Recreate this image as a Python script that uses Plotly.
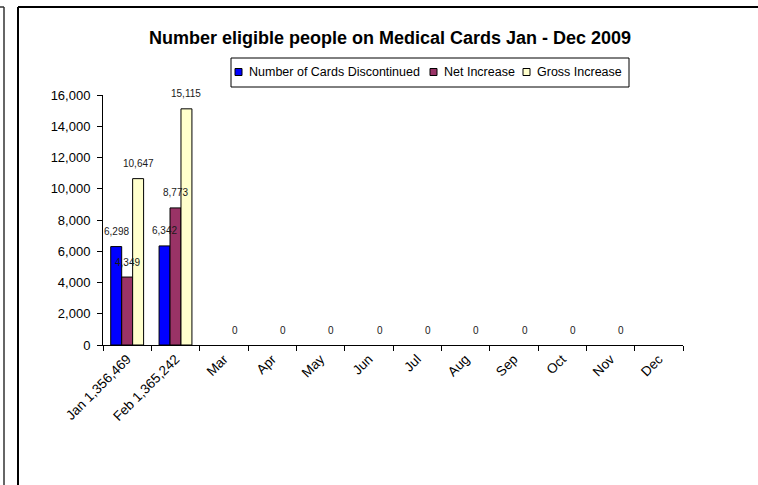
import plotly.graph_objects as go

# ---- data ----
categories = ["Jan 1,356,469", "Feb 1,365,242", "Mar", "Apr", "May", "Jun",
              "Jul", "Aug", "Sep", "Oct", "Nov", "Dec"]
series_names = ["Number of Cards Discontinued", "Net Increase", "Gross Increase"]
cards_discontinued = [6298, 6342, None, None, None, None, None, None, None, None, None, None]
net_increase = [4349, 8773, None, None, None, None, None, None, None, None, None, None]
gross_increase = [10647, 15115, 0, 0, 0, 0, 0, 0, 0, 0, 0, None]
y_tick_values = [0, 2000, 4000, 6000, 8000, 10000, 12000, 14000, 16000]
title_text = "Number eligible people on Medical Cards Jan - Dec 2009"

# ---- styling ----
W, H = 758, 485
ML, MR, MT, MB = 103, 75, 95, 140
PW, PH = W - ML - MR, H - MT - MB
colors = ["#0000FF", "#993366", "#FFFFCC"]
FONT = "Liberation Sans, Arial, sans-serif"
BARGAP = 0.32

# legend layout (pixels in the page)
LEG_BOX = (231, 58, 629, 87)          # x0, y0, x1, y1
LEG_SWATCH_X = [235, 430, 523]        # left edge of each swatch
LEG_SWATCH = 7
LEG_TEXT_GAP = 5
LEG_CY = 72

series = [cards_discontinued, net_increase, gross_increase]


def px_x(p):
    return (p - ML) / PW


def px_y(p):
    return (H - MB - p) / PH


fig = go.Figure()
for name, vals, col in zip(series_names, series, colors):
    fig.add_trace(go.Bar(
        x=categories, y=vals, name=name,
        marker=dict(color=col,
                    line=dict(color="black", width=[1 if v else 0 for v in vals])),
        hoverinfo="x+y+name",
    ))

# data labels
cat_w = PW / len(categories)
bar_w = cat_w * (1 - BARGAP) / len(series)
for si, vals in enumerate(series):
    off = (si - (len(series) - 1) / 2) * bar_w
    for c, v in zip(categories, vals):
        if v is None:
            continue
        fig.add_annotation(
            x=c, y=v, xref="x", yref="y", text=f"{v:,}", showarrow=False,
            xshift=off, yshift=15, yanchor="middle", xanchor="center",
            font=dict(family=FONT, size=10, color="#1a1a1a"),
        )

shapes = [
    # main chart frame (left and top edges)
    dict(type="line", xref="paper", yref="paper", x0=px_x(18), x1=px_x(18), y0=px_y(7), y1=px_y(486),
         line=dict(color="black", width=2)),
    dict(type="line", xref="paper", yref="paper", x0=px_x(18), x1=px_x(759), y0=px_y(7), y1=px_y(7),
         line=dict(color="black", width=2)),
    # neighbouring frame corner at far left
    dict(type="line", xref="paper", yref="paper", x0=px_x(4), x1=px_x(4), y0=px_y(7), y1=px_y(486),
         line=dict(color="#333333", width=1.5)),
    dict(type="line", xref="paper", yref="paper", x0=px_x(-1), x1=px_x(4), y0=px_y(7), y1=px_y(7),
         line=dict(color="#333333", width=1.5)),
    # legend box
    dict(type="rect", xref="paper", yref="paper",
         x0=px_x(LEG_BOX[0]), x1=px_x(LEG_BOX[2]), y0=px_y(LEG_BOX[1]), y1=px_y(LEG_BOX[3]),
         line=dict(color="black", width=1), fillcolor="white"),
]

# legend swatches + text
for name, col, sx in zip(series_names, colors, LEG_SWATCH_X):
    shapes.append(dict(type="rect", xref="paper", yref="paper",
                       x0=px_x(sx), x1=px_x(sx + LEG_SWATCH),
                       y0=px_y(LEG_CY - LEG_SWATCH / 2), y1=px_y(LEG_CY + LEG_SWATCH / 2),
                       line=dict(color="black", width=1), fillcolor=col))
    fig.add_annotation(x=px_x(sx + LEG_SWATCH + LEG_TEXT_GAP), y=px_y(LEG_CY),
                       xref="paper", yref="paper", text=name, showarrow=False,
                       xanchor="left", yanchor="middle",
                       font=dict(family=FONT, size=12.5, color="black"))

fig.update_layout(
    template="none",
    width=W, height=H,
    margin=dict(l=ML, r=MR, t=MT, b=MB, autoexpand=False),
    paper_bgcolor="white", plot_bgcolor="white",
    barmode="group", bargap=BARGAP, bargroupgap=0,
    title=dict(text=f"<b>{title_text}</b>", x=px_x(390), xref="paper", xanchor="center",
               y=1 - 38 / H, yref="container", yanchor="middle",
               font=dict(family=FONT, size=18, color="black")),
    xaxis=dict(type="category", range=[-0.5, len(categories) - 0.5],
               showline=True, linecolor="black", linewidth=1,
               ticks="outside", tickson="boundaries", ticklen=5, tickcolor="black",
               tickangle=-45, showgrid=False, zeroline=False, automargin=False,
               tickfont=dict(family=FONT, size=13.5, color="black")),
    yaxis=dict(range=[0, 16000], tickvals=y_tick_values, tickformat=",",
               showline=True, linecolor="black", linewidth=1,
               ticks="outside", ticklen=5, tickcolor="black", ticklabelstandoff=4,
               showgrid=False, zeroline=False, automargin=False,
               tickfont=dict(family=FONT, size=13, color="black")),
    shapes=shapes,
    showlegend=False,
)

fig.write_html("out.html", config={"displayModeBar": False},
               post_script="document.body.style.margin='0';document.body.style.overflow='hidden';")
